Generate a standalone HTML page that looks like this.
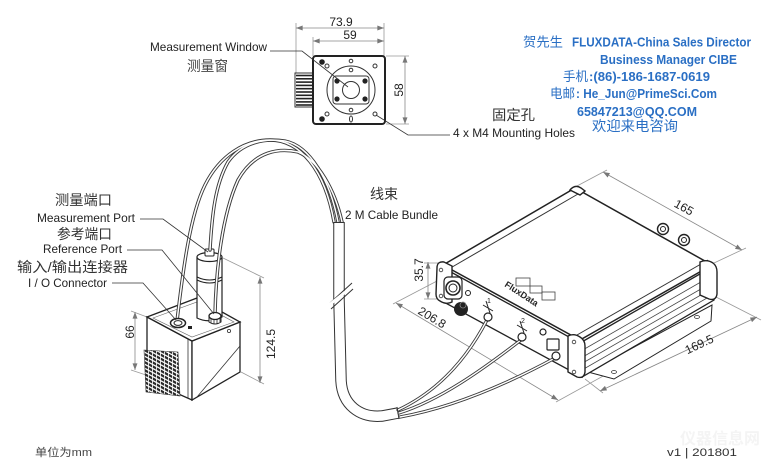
<!DOCTYPE html>
<html><head><meta charset="utf-8">
<style>
html,body{margin:0;padding:0;background:#fff;width:768px;height:469px;overflow:hidden;}
svg{display:block}
text{font-family:"Liberation Sans","Noto Sans CJK SC",sans-serif;}
</style></head><body>
<svg xmlns="http://www.w3.org/2000/svg" width="768" height="469" viewBox="0 0 768 469">
<defs>
<marker id="ar" viewBox="0 0 8 6" markerWidth="7" markerHeight="5" refX="8" refY="3" orient="auto-start-reverse" markerUnits="userSpaceOnUse"><path d="M0,0 L8,3 L0,6z" fill="#777"/></marker>
<pattern id="fp" width="4" height="4" patternUnits="userSpaceOnUse" patternTransform="skewY(28)"><rect width="4" height="4" fill="#fff"/><rect width="4" height="2.6" fill="#2a2a2a"/><rect width="0.8" height="4" fill="#fff"/></pattern>
</defs>

<!-- ===== TOP DEVICE ===== -->
<g stroke="#999" stroke-width="0.8" fill="none">
 <line x1="296" y1="23" x2="296" y2="73"/>
 <line x1="384" y1="23" x2="384" y2="56"/>
 <line x1="313" y1="37" x2="313" y2="56"/>
 <line x1="386" y1="56" x2="409" y2="56"/>
 <line x1="386" y1="124" x2="409" y2="124"/>
</g>
<g stroke="#888" stroke-width="0.8" marker-start="url(#ar)" marker-end="url(#ar)">
 <line x1="296" y1="28" x2="384" y2="28"/>
 <line x1="313" y1="41" x2="384" y2="41"/>
 <line x1="405" y1="56" x2="405" y2="124"/>
</g>
<g font-size="12" fill="#222">
 <text x="341" y="26" text-anchor="middle">73.9</text>
 <text x="350" y="39" text-anchor="middle">59</text>
 <text transform="translate(403,90) rotate(-90)" text-anchor="middle">58</text>
</g>
<rect x="295" y="73" width="18" height="34" fill="#fff" stroke="#333" stroke-width="1"/>
<g stroke="#222" stroke-width="1.6">
 <line x1="296" y1="75.5" x2="312" y2="75.5"/><line x1="296" y1="78.8" x2="312" y2="78.8"/>
 <line x1="296" y1="82.1" x2="312" y2="82.1"/><line x1="296" y1="85.4" x2="312" y2="85.4"/>
 <line x1="296" y1="88.7" x2="312" y2="88.7"/><line x1="296" y1="92" x2="312" y2="92"/>
 <line x1="296" y1="95.3" x2="312" y2="95.3"/><line x1="296" y1="98.6" x2="312" y2="98.6"/>
 <line x1="296" y1="101.9" x2="312" y2="101.9"/><line x1="296" y1="105" x2="312" y2="105"/>
</g>
<rect x="313" y="56" width="72" height="68" rx="3" fill="#fff" stroke="#222" stroke-width="2"/>
<g fill="none" stroke="#333" stroke-width="1">
 <circle cx="351" cy="90" r="24"/>
 <rect x="333" y="76" width="36" height="28" rx="3"/>
 <circle cx="351" cy="90" r="8.5"/>
 <circle cx="351" cy="61" r="1.8"/><circle cx="351" cy="70" r="1.8"/><circle cx="351" cy="110" r="1.8"/>
 <ellipse cx="351" cy="119" rx="1.5" ry="3"/>
 <circle cx="327" cy="66" r="2"/><circle cx="375" cy="66" r="2"/>
 <circle cx="327" cy="114" r="2"/><circle cx="375" cy="114" r="2"/>
</g>
<g fill="#222">
 <circle cx="337" cy="81" r="2.6"/><circle cx="365" cy="81" r="2.6"/>
 <circle cx="337" cy="99" r="2.6"/><circle cx="365" cy="99" r="2.6"/>
 <circle cx="322" cy="62" r="2.8"/><circle cx="322" cy="119" r="2.8"/>
</g>
<g fill="none" stroke="#333" stroke-width="0.8">
 <polyline points="270,51 302,51 348,87"/>
 <polyline points="376,115 408,135 450,135"/>
</g>
<text x="150" y="51" font-size="12" fill="#222" textLength="117" lengthAdjust="spacingAndGlyphs">Measurement Window</text>
<text x="187" y="71" font-size="14" fill="#444" textLength="41" lengthAdjust="spacingAndGlyphs">测量窗</text>
<text x="492" y="120" font-size="14" fill="#333" textLength="43" lengthAdjust="spacingAndGlyphs">固定孔</text>
<text x="453" y="137" font-size="12" fill="#222" textLength="122" lengthAdjust="spacingAndGlyphs">4 x M4 Mounting Holes</text>

<!-- ===== CONTACT BLOCK ===== -->
<g fill="#2a6fc4" font-weight="bold" font-size="12.5">
 <text x="523" y="46.5" font-weight="normal" font-size="13" textLength="40" lengthAdjust="spacingAndGlyphs">贺先生</text>
 <text x="572" y="46.5" textLength="179" lengthAdjust="spacingAndGlyphs">FLUXDATA-China Sales Director</text>
 <text x="600" y="64" textLength="137" lengthAdjust="spacingAndGlyphs">Business Manager CIBE</text>
 <text x="563" y="81" font-weight="normal" font-size="13" textLength="25" lengthAdjust="spacingAndGlyphs">手机</text>
 <text x="589" y="81" textLength="121" lengthAdjust="spacingAndGlyphs">:(86)-186-1687-0619</text>
 <text x="550" y="98" font-weight="normal" font-size="13" textLength="25" lengthAdjust="spacingAndGlyphs">电邮</text>
 <text x="576" y="98" textLength="141" lengthAdjust="spacingAndGlyphs">: He_Jun@PrimeSci.Com</text>
 <text x="577" y="116" textLength="120" lengthAdjust="spacingAndGlyphs">65847213@QQ.COM</text>
 <text x="592" y="131" font-weight="normal" font-size="14" textLength="86" lengthAdjust="spacingAndGlyphs">欢迎来电咨询</text>
</g>

<!-- ===== LEFT UNIT ===== -->
<g stroke="#999" stroke-width="0.8" fill="none">
 <line x1="147" y1="317" x2="131" y2="311"/>
 <line x1="146" y1="375" x2="131" y2="370"/>
 <line x1="223" y1="258" x2="264" y2="278"/>
 <line x1="241" y1="372" x2="264" y2="384"/>
</g>
<g stroke="#888" stroke-width="0.8" marker-start="url(#ar)" marker-end="url(#ar)">
 <line x1="135" y1="312" x2="135" y2="370"/>
 <line x1="260" y1="277" x2="260" y2="383"/>
</g>
<g font-size="12" fill="#222">
 <text transform="translate(134,332) rotate(-90)" text-anchor="middle">66</text>
 <text transform="translate(275,344) rotate(-90)" text-anchor="middle">124.5</text>
</g>
<polygon points="147,317 192,341 192,400 147,380" fill="#fff" stroke="#222" stroke-width="1.3"/>
<polygon points="192,341 240,322 240,372 192,400" fill="#fff" stroke="#222" stroke-width="1.3"/>
<polygon points="147,317 197,298 240,322 192,341" fill="#fff" stroke="#222" stroke-width="1.3"/>
<polygon points="153,318 197,302 234,322 192,337" fill="none" stroke="#666" stroke-width="0.6"/>
<line x1="188" y1="339" x2="188" y2="398" stroke="#333" stroke-width="0.8"/>
<line x1="240" y1="346" x2="197" y2="397" stroke="#333" stroke-width="0.8"/>
<circle cx="229" cy="331" r="1.6" fill="none" stroke="#333" stroke-width="0.8"/>
<polygon points="144,350 178,352 180,396 146,392" fill="url(#fp)" stroke="#333" stroke-width="0.6"/>
<path d="M197,257 L197,318 Q209,324 222,317 L222,257" fill="#fff" stroke="#222" stroke-width="1.2"/>
<ellipse cx="209.5" cy="257" rx="12.5" ry="4.5" fill="#fff" stroke="#222" stroke-width="1.2"/>
<path d="M197,277 Q209.5,283 222,277 M197,280 Q209.5,286 222,280" stroke="#222" fill="none" stroke-width="1.1"/>
<rect x="205" y="249" width="9" height="7" rx="1" fill="#fff" stroke="#222" stroke-width="1"/>

<g fill="none" stroke="#3a3a3a" stroke-width="3.4" stroke-linecap="round">
 <path d="M177,321 C183,270 190,215 205,185 C220,155 245,140 270,140 C300,140 325,170 334,222"/>
 <path d="M210,250 C212,215 215,185 228,162 C242,142 265,138 285,141 C310,146 330,180 338,222"/>
 <path d="M215,314 C216,270 222,215 238,180 C255,150 280,148 298,152 C318,160 335,190 342,222"/>
</g>
<g fill="none" stroke="#fff" stroke-width="1.5" stroke-linecap="round">
 <path d="M177,321 C183,270 190,215 205,185 C220,155 245,140 270,140 C300,140 325,170 334,222"/>
 <path d="M210,250 C212,215 215,185 228,162 C242,142 265,138 285,141 C310,146 330,180 338,222"/>
 <path d="M215,314 C216,270 222,215 238,180 C255,150 280,148 298,152 C318,160 335,190 342,222"/>
</g>
<ellipse cx="178" cy="323" rx="7.5" ry="4.5" fill="#fff" stroke="#222" stroke-width="1.5"/>
<ellipse cx="178" cy="323" rx="4" ry="2.4" fill="none" stroke="#222" stroke-width="1"/>
<rect x="188" y="326" width="4" height="3" fill="#222"/>
<path d="M209,316 L209,322 Q215,326 221,322 L221,316" fill="#fff" stroke="#222" stroke-width="1"/>
<ellipse cx="215" cy="316" rx="6" ry="3.5" fill="#fff" stroke="#222" stroke-width="1.3"/>
<g stroke="#222" stroke-width="0.8"><line x1="211" y1="318" x2="211" y2="323"/><line x1="214" y1="319" x2="214" y2="324"/><line x1="217" y1="319" x2="217" y2="324"/><line x1="220" y1="318" x2="220" y2="322"/></g>

<g fill="none" stroke="#333" stroke-width="0.8">
 <polyline points="140,219 163,219 208,252"/>
 <polyline points="127,250 162,250 214,314"/>
 <polyline points="112,283 143,283 176,320"/>
</g>
<g font-size="14" fill="#333">
 <text x="55" y="205" textLength="57" lengthAdjust="spacingAndGlyphs">测量端口</text>
 <text x="57" y="239" textLength="55" lengthAdjust="spacingAndGlyphs">参考端口</text>
 <text x="17" y="272" textLength="111" lengthAdjust="spacingAndGlyphs">输入/输出连接器</text>
 <text x="370" y="199" textLength="28" lengthAdjust="spacingAndGlyphs">线束</text>
</g>
<g font-size="12" fill="#222">
 <text x="37" y="222" textLength="98" lengthAdjust="spacingAndGlyphs">Measurement Port</text>
 <text x="43" y="253" textLength="79" lengthAdjust="spacingAndGlyphs">Reference Port</text>
 <text x="28" y="287" textLength="79" lengthAdjust="spacingAndGlyphs">I / O Connector</text>
 <text x="345" y="219" textLength="93" lengthAdjust="spacingAndGlyphs">2 M Cable Bundle</text>
</g>

<path d="M339,222 L339,300 L341,380 C342,405 360,418 382,416 L398,413" fill="none" stroke="#333" stroke-width="11.5"/>
<path d="M339,223 L339,300 L341,380 C342,405 360,418 382,416 L398.5,413" fill="none" stroke="#fff" stroke-width="9.5"/>
<g stroke="#333" stroke-width="1" fill="none">
 <line x1="330" y1="303" x2="352" y2="283"/>
 <line x1="331" y1="309" x2="353" y2="289"/>
</g>
<line x1="329" y1="305" x2="353" y2="286" stroke="#fff" stroke-width="3"/>

<!-- ===== BIG BOX ===== -->
<g stroke="#999" stroke-width="0.8" fill="none">
 <line x1="577" y1="186" x2="607" y2="170"/>
 <line x1="714" y1="263" x2="746" y2="248"/>
 <line x1="716" y1="297" x2="761" y2="320"/>
 <line x1="585" y1="379" x2="603" y2="393"/>
 <line x1="437" y1="281" x2="393" y2="304"/>
 <line x1="605" y1="375" x2="556" y2="402"/>
 <line x1="424" y1="263" x2="438" y2="263"/>
 <line x1="424" y1="299" x2="438" y2="299"/>
</g>
<g stroke="#888" stroke-width="0.8" marker-start="url(#ar)" marker-end="url(#ar)">
 <line x1="603" y1="172" x2="742" y2="250"/>
 <line x1="600" y1="391" x2="757" y2="317"/>
 <line x1="396" y1="303" x2="558" y2="400"/>
 <line x1="428" y1="262" x2="428" y2="299"/>
</g>
<g font-size="12" fill="#222">
 <text transform="translate(682,211) rotate(29.3)" text-anchor="middle">165</text>
 <text transform="translate(701,348) rotate(-25.2)" text-anchor="middle">169.5</text>
 <text transform="translate(430,321) rotate(31)" text-anchor="middle">206.8</text>
 <text transform="translate(423,270) rotate(-90)" text-anchor="middle">35.7</text>
</g>
<g fill="#fff" stroke="#222" stroke-width="1.4">
 <circle cx="663" cy="229" r="5.5"/><circle cx="684" cy="240" r="5.5"/>
</g>
<g fill="none" stroke="#222" stroke-width="1">
 <circle cx="663" cy="229" r="2.5"/><circle cx="684" cy="240" r="2.5"/>
</g>
<polygon points="588,372 614,379 711,321 712,305" fill="#fff" stroke="#222" stroke-width="1"/>
<ellipse cx="614" cy="372" rx="2.5" ry="1.5" fill="none" stroke="#333" stroke-width="0.8"/>
<ellipse cx="697" cy="317" rx="2.5" ry="1.5" fill="none" stroke="#333" stroke-width="0.8"/>
<polygon points="580,343 712,267 714,300 582,377" fill="#fff" stroke="#222" stroke-width="1.3"/>
<g stroke="#444" stroke-width="0.75">
 <line x1="581" y1="351" x2="713" y2="275"/>
 <line x1="581" y1="358" x2="713" y2="282"/>
 <line x1="581" y1="364" x2="713" y2="288"/>
 <line x1="582" y1="370" x2="714" y2="294"/>
</g>
<polygon points="440,266 580,343 582,377 440,300" fill="#fff" stroke="#222" stroke-width="1.3"/>
<polygon points="443,265 575,188 712,265 580,340" fill="#fff" stroke="#222" stroke-width="1.5"/>
<g stroke="#333" stroke-width="1">
 <line x1="447" y1="270" x2="578" y2="194"/>
 <line x1="577" y1="335" x2="708" y2="260"/>
</g>
<g fill="#fff" stroke="#222" stroke-width="1.4">
 <path d="M437,268 Q437,261 444,262 L452,266 L452,302 Q446,305 440,301 Q436,299 436,294 Z"/>
 <path d="M568,336 Q574,333 580,337 Q585,340 585,346 L585,372 Q584,379 577,377 L568,372 Z"/>
 <path d="M700,262 Q707,259 713,263 Q717,266 717,272 L717,294 Q716,301 709,299 L700,295 Z"/>
 <path d="M570,190 Q575,184 581,188 L585,191 L580,195 Z"/>
</g>
<g fill="none" stroke="#333" stroke-width="0.8">
 <circle cx="441" cy="270" r="1.8"/><circle cx="441" cy="296" r="1.8"/>
 <circle cx="574" cy="342" r="1.8"/><circle cx="574" cy="372" r="1.8"/>
</g>
<text transform="translate(504,286) rotate(33)" font-size="9" font-weight="bold" fill="#222">FluxData</text>
<g fill="none" stroke="#444" stroke-width="0.8">
 <rect x="516" y="278" width="14" height="8"/><rect x="530" y="286" width="12" height="7"/><rect x="542" y="292" width="13" height="8"/>
</g>
<rect x="444" y="277" width="18" height="22" rx="4" fill="#fff" stroke="#222" stroke-width="1.2"/>
<circle cx="453" cy="288" r="7" fill="#fff" stroke="#222" stroke-width="1.6"/>
<circle cx="453" cy="288" r="4" fill="none" stroke="#222" stroke-width="1"/>
<circle cx="468" cy="293" r="2.5" fill="none" stroke="#222" stroke-width="1"/>
<circle cx="461" cy="309" r="7" fill="#222"/>
<circle cx="463" cy="305" r="3" fill="none" stroke="#888" stroke-width="0.8"/>

<g fill="none" stroke="#3a3a3a" stroke-width="3.2" stroke-linecap="round">
 <path d="M398,410 C430,395 462,368 487,320"/>
 <path d="M399,413 C440,400 482,370 521,340"/>
 <path d="M400,417 C450,408 505,385 555,358"/>
</g>
<g fill="none" stroke="#fff" stroke-width="1.4" stroke-linecap="round">
 <path d="M398,410 C430,395 462,368 487,320"/>
 <path d="M399,413 C440,400 482,370 521,340"/>
 <path d="M400,417 C450,408 505,385 555,358"/>
</g>
<line x1="397" y1="407" x2="399" y2="419" stroke="#333" stroke-width="1"/>

<g fill="#fff" stroke="#222" stroke-width="1.2">
 <circle cx="488" cy="317" r="4"/>
 <circle cx="522" cy="337" r="4"/>
 <circle cx="543" cy="332" r="3"/>
 <rect x="547" y="339" width="12" height="11" rx="1"/>
 <circle cx="556" cy="356" r="4"/>
</g>
<g fill="none" stroke="#222" stroke-width="1">
 <path d="M483,305 L493,311 M486,301 L490,313"/>
 <path d="M517,325 L527,331 M520,321 L524,333"/>
</g>
<g font-size="7" fill="#222">
 <text x="487" y="303">1</text>
 <text x="521" y="323">2</text>
</g>

<text x="35" y="456" font-size="11" fill="#444" textLength="57" lengthAdjust="spacingAndGlyphs">单位为mm</text>
<text x="667" y="456" font-size="11" fill="#333" textLength="70" lengthAdjust="spacingAndGlyphs">v1  |  201801</text>
<text x="680" y="444" font-size="16" fill="#f4f4f4" font-weight="bold">仪器信息网</text>
</svg>
</body></html>
